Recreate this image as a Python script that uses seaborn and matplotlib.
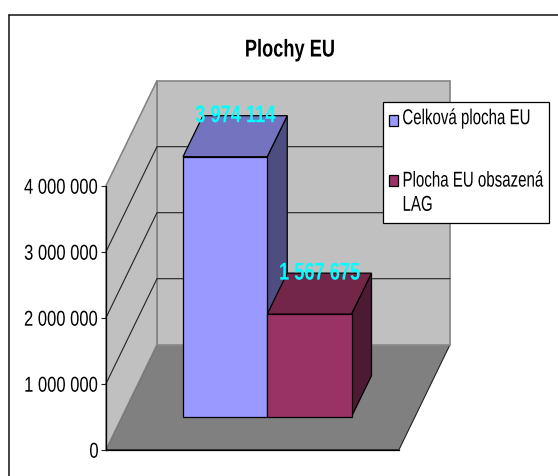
import matplotlib
matplotlib.use("Agg")
import matplotlib.pyplot as plt
import matplotlib.patheffects as path_effects
import pandas as pd
import seaborn as sns
from matplotlib.lines import Line2D
from matplotlib.patches import Polygon, Rectangle
from matplotlib.transforms import Affine2D, IdentityTransform

# Values
categories = ["Celková plocha EU", "Plocha EU obsazená\nLAG"]
areas = [3974114, 1567675]
y_ticks = [0, 1000000, 2000000, 3000000, 4000000]
y_tick_labels = ["0", "1 000 000", "2 000 000", "3 000 000", "4 000 000"]
front_colors = ["#9999ff", "#993366"]
top_colors = ["#7373bf", "#732647"]
side_colors = ["#4d4d80", "#4d1a33"]

W, H = 558, 477

sns.set_theme(style="white")
plt.rcParams["font.family"] = ["Liberation Sans", "DejaVu Sans"]


class Squeeze(path_effects.AbstractPathEffect):
    # the original text is condensed and no narrow font is installed
    def __init__(self, sx, anchor=0.0, shift=0):
        super().__init__()
        self.sx = sx
        self.anchor = anchor
        self.shift = shift

    def draw_path(self, renderer, gc, tpath, affine, rgbFace=None):
        ext = tpath.get_extents(affine)
        pivot = ext.x0 + self.anchor * ext.width
        squeezed = affine + Affine2D().translate(-pivot, 0).scale(self.sx, 1).translate(pivot + self.shift, 0)
        renderer.draw_path(gc, tpath, squeezed, rgbFace)


def box(left, top, right, bottom):
    # pixel box, measured from the top left, to figure fractions
    return [left / W, 1 - bottom / H, (right - left) / W, (bottom - top) / H]


fig = plt.figure(figsize=(W / 100, H / 100), dpi=100, facecolor="white")

# the frame is cut off on the right and at the bottom
fig.add_artist(Line2D([9 / W, 9 / W], [0, 1 - 15.7 / H], color="#111111", lw=1.1))
fig.add_artist(Line2D([9 / W, 1], [1 - 15.7 / H, 1 - 15.7 / H], color="#111111", lw=1.1))

title = fig.text(290 / W, 1 - 51 / H, "Plochy EU", ha="center", va="center",
                 fontsize=17.5, fontweight="bold", color="black")
title.set_path_effects([Squeeze(0.75, 0.5)])

# Value axis sits in the front plane of the box
ax = fig.add_axes(box(106, 186.7, 399, 450.7), facecolor="none")
ax.set_xlim(0, 1)
ax.set_ylim(0, 4000000)
ax.set_xticks([])
ax.set_yticks(y_ticks)
ax.set_yticklabels(y_tick_labels, fontsize=15.5, color="black")
ax.tick_params(axis="y", left=True, length=3.6, width=0.8, color="#222222", pad=1.5)
for label in ax.get_yticklabels():
    label.set_path_effects([Squeeze(0.77, 1.0)])
for name in ["top", "right"]:
    ax.spines[name].set_visible(False)
for name in ["left", "bottom"]:
    ax.spines[name].set_color("black")
    ax.spines[name].set_linewidth(0.9)
    ax.spines[name].set_zorder(3)

wall_dx, wall_dy = 51, 105
fig.canvas.draw()
to_px = ax.transData.transform
x0, y0 = to_px((0, 0))
x1, y_top = to_px((1, y_ticks[-1]))


def shape(points, **kw):
    ax.add_patch(Polygon(points, closed=True, transform=IdentityTransform(), clip_on=False, **kw))


shape([(x0, y0), (x0 + wall_dx, y0 + wall_dy), (x1 + wall_dx, y0 + wall_dy), (x1, y0)],
      facecolor="#808080", edgecolor="#222222", lw=0.8, zorder=0.1)
shape([(x0 + wall_dx, y0 + wall_dy), (x0 + wall_dx, y_top + wall_dy),
       (x1 + wall_dx, y_top + wall_dy), (x1 + wall_dx, y0 + wall_dy)],
      facecolor="#c0c0c0", edgecolor="#8c8c8c", lw=1.3, zorder=0.2)
shape([(x0, y0), (x0, y_top), (x0 + wall_dx, y_top + wall_dy), (x0 + wall_dx, y0 + wall_dy)],
      facecolor="#c0c0c0", edgecolor="#808080", lw=1.1, zorder=0.2)

for value in y_ticks[1:-1]:
    _, y = to_px((0, value))
    ax.add_line(Line2D([x0, x0 + wall_dx, x1 + wall_dx], [y, y + wall_dy, y + wall_dy],
                       color="#222222", lw=0.8, transform=IdentityTransform(),
                       clip_on=False, zorder=0.3))

# Bars go in their own axes, moved back into the box
bar_ax = fig.add_axes(box(183, 157.7, 351.5, 417.7), facecolor="none")
df = pd.DataFrame({"category": categories, "area": areas})
sns.barplot(data=df, x="category", y="area", hue="category", palette=front_colors,
            width=1, dodge=False, saturation=1, edgecolor="black", linewidth=0.9,
            legend=False, ax=bar_ax)
bar_ax.set_xlim(-0.5, 1.5)
bar_ax.set_ylim(0, max(areas))
bar_ax.axis("off")

bar_dx, bar_dy = 20, 41
fig.canvas.draw()
bars = [c[0] for c in bar_ax.containers]
for i, bar in enumerate(bars):
    bar.set_zorder(2)
    bar.set_clip_on(False)
    (left, bottom), (right, top) = bar_ax.transData.transform(
        [(bar.get_x(), 0), (bar.get_x() + bar.get_width(), areas[i])])
    edge = dict(transform=IdentityTransform(), clip_on=False, edgecolor="black", lw=0.9,
                zorder=1 + i * 0.1)
    bar_ax.add_patch(Polygon([(right, bottom), (right + bar_dx, bottom + bar_dy),
                              (right + bar_dx, top + bar_dy), (right, top)],
                             facecolor=side_colors[i], **edge))
    bar_ax.add_patch(Polygon([(left, top), (left + bar_dx, top + bar_dy),
                              (right + bar_dx, top + bar_dy), (right, top)],
                             facecolor=top_colors[i], **edge))
    value_label = bar_ax.annotate(f"{areas[i]:,}".replace(",", " "),
                                  xy=(bar.get_x() + bar.get_width() / 2, areas[i]),
                                  xytext=(bar_dx / 2, bar_dy), textcoords="offset pixels",
                                  ha="center", va="center", color="#00ffff", fontsize=17.5,
                                  fontweight="bold", annotation_clip=False, zorder=5)
    value_label.set_path_effects([Squeeze(0.75, 0.5)])

# Legend box: the squeezed text would make a real legend far too wide
legend_ax = fig.add_axes([0, 0, 1, 1], facecolor="none", zorder=5)
legend_ax.set_xlim(0, W)
legend_ax.set_ylim(H - 0.7, -0.7)
legend_ax.axis("off")
legend_ax.add_patch(Rectangle((383, 102), 166, 121, facecolor="white", edgecolor="black", lw=0.9))
for color, swatch_top, text_y, name in zip(front_colors, [115, 175], [119, 193.5], categories):
    legend_ax.add_patch(Rectangle((389, swatch_top), 8.5, 11, facecolor=color, edgecolor="black", lw=0.9))
    # placed further left and shifted back when drawn, so the unsqueezed layout stays on the figure
    entry = legend_ax.text(350, text_y, name, ha="left", va="center", fontsize=15.5,
                           color="black", linespacing=1.2)
    entry.set_path_effects([Squeeze(0.70, 0.0, shift=52)])

fig.savefig("out.png", dpi=100)
